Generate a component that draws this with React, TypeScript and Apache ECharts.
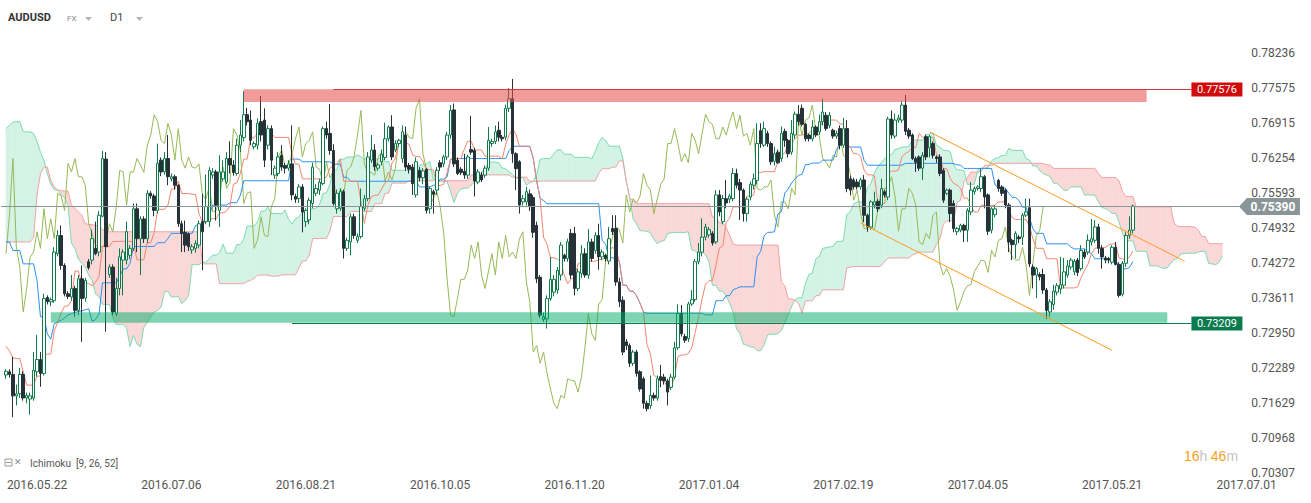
import React, { useEffect, useRef } from "react";
import * as echarts from "echarts";

// Daily AUDUSD candles, values in 1e-4 units (pips): [open, close, low, high]
const candles: number[][] = [
  [7223,7230,7216,7234],[7229,7224,7218,7234],[7224,7184,7144,7257],[7184,7188,7166,7205],[7188,7224,7180,7236],
  [7224,7180,7175,7230],[7180,7185,7170,7190],[7178,7184,7149,7190],[7180,7232,7175,7266],[7229,7252,7220,7298],
  [7252,7226,7201,7266],[7226,7366,7222,7375],[7368,7360,7355,7372],[7360,7364,7352,7368],[7362,7453,7358,7462],
  [7450,7484,7445,7494],[7484,7428,7420,7503],[7428,7375,7370,7432],[7375,7370,7365,7380],[7369,7385,7362,7410],
  [7385,7344,7332,7390],[7344,7403,7335,7410],[7403,7366,7285,7428],[7367,7400,7360,7405],[7435,7424,7420,7440],
  [7438,7478,7430,7495],[7460,7450,7447,7510],[7453,7522,7445,7530],[7520,7628,7518,7642],
  [7627,7463,7304,7640],[7411,7425,7405,7430],[7425,7341,7335,7430],[7338,7385,7333,7405],[7385,7444,7372,7460],
  [7438,7453,7372,7458],[7438,7491,7430,7510],[7447,7460,7440,7466],[7460,7534,7455,7544],[7534,7478,7453,7544],
  [7478,7515,7410,7520],[7515,7478,7470,7520],[7478,7563,7470,7569],[7563,7558,7553,7567],[7558,7531,7520,7562],
  [7531,7619,7525,7656],[7625,7603,7595,7630],[7603,7628,7598,7640],[7628,7594,7578,7672],[7590,7594,7585,7600],
  [7594,7578,7570,7598],[7578,7506,7500,7580],[7506,7488,7453,7512],[7490,7466,7453,7512],[7487,7463,7455,7490],
  [7457,7463,7450,7468],[7460,7469,7452,7475],[7466,7506,7460,7512],[7510,7491,7419,7562],[7510,7538,7505,7598],
  [7510,7606,7500,7612],[7597,7603,7590,7610],[7603,7541,7512,7607],[7531,7603,7500,7634],[7590,7603,7585,7625],
  [7584,7628,7580,7640],[7628,7616,7600,7660],[7616,7602,7596,7625],[7600,7653,7596,7665],[7653,7672,7640,7700],
  [7667,7710,7660,7754],[7710,7697,7690,7723],[7700,7662,7653,7718],[7650,7656,7645,7660],[7653,7694,7645,7703],
  [7697,7672,7660,7745],[7700,7625,7612,7722],[7653,7684,7645,7690],[7684,7625,7597,7690],[7597,7610,7590,7615],
  [7600,7631,7595,7640],[7634,7612,7605,7653],[7615,7610,7600,7620],[7610,7618,7605,7625],[7618,7560,7550,7690],
  [7557,7552,7545,7562],[7553,7575,7545,7580],[7575,7528,7490,7580],[7510,7531,7500,7535],[7513,7550,7505,7555],
  [7544,7612,7535,7620],[7563,7572,7558,7580],[7569,7584,7560,7590],[7581,7684,7578,7688],[7684,7672,7665,7697],
  [7675,7643,7635,7730],[7643,7544,7540,7655],[7534,7563,7525,7570],[7535,7566,7530,7572],[7566,7460,7441,7570],
  [7460,7475,7455,7480],[7472,7519,7447,7525],[7519,7484,7478,7525],[7475,7482,7470,7488],[7482,7538,7478,7572],
  [7535,7553,7530,7560],[7553,7631,7548,7640],[7625,7644,7620,7672],[7644,7613,7605,7655],[7610,7616,7605,7620],
  [7622,7636,7615,7645],[7630,7665,7625,7695],[7665,7687,7660,7690],[7687,7631,7625,7709],[7644,7656,7640,7662],
  [7656,7662,7650,7665],[7628,7678,7620,7690],[7672,7612,7605,7688],[7615,7608,7600,7620],[7612,7581,7560,7618],
  [7560,7622,7555,7630],[7606,7592,7585,7612],[7592,7605,7580,7610],[7608,7531,7525,7610],[7534,7572,7525,7575],
  [7566,7561,7525,7570],[7569,7606,7560,7612],[7620,7612,7605,7625],[7618,7631,7612,7635],[7631,7672,7625,7678],
  [7672,7718,7665,7728],[7719,7618,7612,7731],[7625,7600,7597,7630],[7608,7602,7597,7612],[7604,7597,7590,7637],
  [7597,7631,7590,7635],[7645,7640,7635,7708],[7643,7586,7557,7648],[7584,7603,7580,7608],[7597,7588,7584,7603],
  [7597,7610,7592,7615],[7610,7662,7605,7687],[7656,7660,7650,7665],[7660,7678,7655,7690],[7681,7668,7660,7697],
  [7668,7665,7660,7672],[7668,7722,7662,7729],[7722,7740,7715,7760],[7740,7637,7620,7777],[7637,7609,7569,7640],
  [7622,7541,7525,7625],
  [7547,7553,7540,7560],[7547,7566,7540,7575],[7562,7538,7530,7570],[7555,7490,7480,7560],[7503,7403,7395,7510],
  [7406,7335,7330,7410],[7327,7332,7322,7340],[7328,7366,7310,7372],[7366,7402,7362,7444],[7378,7402,7370,7410],
  [7382,7419,7375,7425],[7410,7466,7400,7472],[7447,7441,7435,7450],[7441,7472,7435,7478],[7488,7410,7403,7496],
  [7488,7385,7372,7500],[7385,7416,7380,7422],[7413,7450,7405,7466],[7450,7410,7405,7460],[7410,7472,7403,7496],
  [7472,7441,7435,7478],[7456,7484,7450,7490],[7484,7444,7420,7506],[7444,7453,7438,7458],[7447,7441,7435,7450],
  [7436,7478,7430,7500],[7497,7491,7485,7522],[7497,7397,7390,7522],[7397,7360,7350,7405],[7363,7266,7260,7370],
  [7285,7278,7270,7290],[7278,7245,7238,7282],[7245,7266,7240,7270],[7266,7226,7220,7270],[7229,7197,7192,7232],
  [7216,7170,7160,7220],[7170,7160,7155,7175],[7166,7185,7160,7222],[7185,7180,7175,7190],[7180,7216,7175,7222],
  [7220,7213,7200,7242],[7219,7212,7205,7225],[7212,7191,7166,7216],[7200,7219,7195,7225],[7219,7274,7215,7285],
  [7274,7338,7270,7355],[7338,7300,7295,7354],[7295,7288,7283,7300],[7291,7356,7285,7360],[7356,7364,7352,7382],
  [7364,7435,7360,7440],[7435,7453,7430,7470],[7453,7481,7445,7516],[7481,7500,7475,7506],[7485,7495,7480,7500],
  [7488,7470,7465,7492],[7472,7560,7468,7569],[7560,7528,7520,7569],[7510,7553,7505,7560],[7553,7545,7535,7588],
  [7552,7558,7545,7562],[7553,7600,7548,7610],[7600,7578,7572,7609],[7583,7569,7513,7590],[7569,7525,7510,7572],
  [7525,7552,7510,7556],[7556,7580,7550,7585],[7578,7590,7570,7600],[7587,7656,7580,7694],[7680,7656,7648,7694],
  [7653,7684,7650,7697],[7675,7656,7650,7680],[7656,7622,7616,7660],[7623,7637,7615,7650],[7640,7620,7618,7645],
  [7628,7675,7622,7688],[7679,7662,7650,7684],[7662,7637,7630,7665],[7640,7675,7635,7700],[7672,7711,7665,7716],
  [7711,7697,7690,7728],[7722,7692,7688,7729],[7692,7665,7660,7695],[7672,7665,7660,7675],[7665,7687,7660,7700],
  [7687,7672,7668,7690],[7678,7697,7672,7710],[7697,7715,7690,7740],[7709,7684,7680,7715],[7690,7709,7685,7715],
  [7681,7670,7665,7684],[7670,7675,7665,7680],[7684,7653,7645,7690],[7653,7684,7648,7704],[7684,7572,7565,7700],
  [7590,7569,7559,7596],[7588,7575,7570,7592],[7584,7575,7570,7590],[7575,7588,7570,7592],[7588,7522,7509,7597],
  [7522,7500,7491,7525],[7500,7547,7495,7550],[7541,7547,7535,7566],[7548,7534,7528,7552],[7541,7572,7535,7590],
  [7566,7560,7555,7570],[7556,7702,7550,7706],[7702,7672,7665,7718],[7670,7700,7665,7712],[7700,7704,7695,7710],
  [7700,7728,7695,7735],[7728,7679,7672,7747],[7681,7670,7665,7685],[7672,7628,7625,7675],[7628,7621,7603,7632],
  [7631,7610,7605,7634],[7610,7634,7588,7640],[7669,7631,7625,7673],[7648,7669,7630,7672],[7656,7634,7628,7660],
  [7631,7628,7620,7634],[7631,7600,7595,7636],[7606,7550,7545,7610],[7563,7569,7560,7572],[7569,7525,7509,7572],
  [7544,7497,7490,7550],[7491,7497,7485,7500],[7494,7503,7490,7506],[7503,7494,7472,7506],[7494,7531,7472,7535],
  [7528,7569,7522,7584],[7566,7572,7560,7576],[7572,7575,7568,7578],[7572,7594,7565,7609],[7594,7556,7535,7597],
  [7560,7492,7485,7563],[7494,7534,7488,7537],[7523,7534,7518,7541],[7587,7572,7566,7590],[7575,7563,7558,7578],
  [7569,7541,7535,7572],[7541,7472,7453,7545],[7475,7467,7438,7478],[7467,7488,7441,7492],[7481,7478,7470,7485],
  [7481,7522,7466,7526],[7522,7528,7518,7553],[7536,7431,7425,7553],[7425,7410,7385,7430],[7410,7422,7367,7425],
  [7411,7407,7400,7415],[7411,7382,7375,7422],[7382,7344,7328,7386],[7341,7360,7332,7365],[7355,7380,7345,7392],
  [7378,7390,7372,7395],[7384,7392,7375,7444],[7391,7416,7385,7442],[7410,7427,7405,7438],[7425,7438,7420,7442],
  [7416,7436,7410,7440],[7438,7415,7408,7442],[7422,7456,7418,7466],[7453,7444,7440,7458],[7453,7475,7448,7486],
  [7472,7478,7465,7515],[7475,7500,7470,7513],[7500,7460,7450,7506],[7460,7444,7422,7466],[7442,7438,7432,7446],
  [7441,7438,7432,7444],[7434,7462,7430,7466],[7462,7430,7428,7472],[7430,7372,7368,7434],[7374,7432,7370,7436],
  [7432,7484,7425,7490],[7484,7494,7478,7520],[7494,7539,7488,7542],
];

// Ichimoku values before enough history exists, pips
const earlyTenkan = [7277, 7268, 7255, 7254, 7254, 7229, 7204, 7204];
const earlyKijun = [7472, 7472, 7456, 7456, 7456, 7431, 7431, 7431, 7431, 7400, 7332, 7332, 7300, 7290, 7319,
  7322, 7325, 7330, 7335, 7338, 7340, 7342, 7343, 7345, 7347];
const earlySpanA = [7684, 7690, 7696, 7697, 7697, 7678, 7678, 7678, 7675, 7660, 7640, 7625, 7600, 7580, 7570,
  7569, 7560, 7555, 7540, 7470, 7460, 7440, 7432, 7425, 7410, 7400];
const earlySpanB = [7472, 7472, 7472, 7472, 7472, 7472, 7472, 7472, 7480, 7560, 7600, 7612, 7612, 7586, 7575,
  7569, 7568, 7567, 7567, 7541, 7535, 7528, 7522, 7506, 7505, 7504, 7503, 7503, 7495,
  7491, 7491, 7491, 7491, 7491, 7491, 7491, 7491, 7491, 7491, 7491, 7491, 7491, 7491,
  7491, 7491, 7491, 7491, 7491, 7491, 7491, 7491, 7491, 7491, 7491, 7491, 7491, 7491,
  7431, 7431, 7431, 7431, 7431,
  7394, 7394, 7394, 7394, 7394, 7394, 7394, 7394,
  7398, 7400, 7404, 7410, 7410, 7410, 7410];

const xLabels = ["2016.05.22", "2016.07.06", "2016.08.21", "2016.10.05", "2016.11.20",
  "2017.01.04", "2017.02.19", "2017.04.05", "2017.05.21", "2017.07.01"];
const yLabels = ["0.70307", "0.70968", "0.71629", "0.72289", "0.72950", "0.73611", "0.74272",
  "0.74932", "0.75593", "0.76254", "0.76915", "0.77575", "0.78236"];

const lastPrice = 7539.0;
const lastPriceText = "0.75390";
const levels = [
  { from: 95, price: 7757.6, text: "0.77576", color: "#d10a0a", line: "#d23a3a" },
  { from: 83, price: 7320.9, text: "0.73209", color: "#0b7a4f", line: "#0b7a4f" },
];
const zones = [
  { from: 69, to: 331, lo: 7733.8, hi: 7757.6, color: "rgba(232,72,72,0.55)" },
  { from: 13, to: 337, lo: 7320.9, hi: 7340.3, color: "rgba(0,172,104,0.5)" },
];
const channel = [
  [268, 7677.7, 342, 7436.1],
  [248, 7507.4, 321, 7269.1],
];

const SHIFT = 26;
const FIRST_LABEL = 9;
const LABEL_STEP = 39;
const NCAT = 361;

function buildIchimoku() {
  const n = candles.length;
  const mid = (a: number, b: number) => {
    let h = -Infinity, l = Infinity;
    for (let k = a; k <= b; k++) { h = Math.max(h, candles[k][3]); l = Math.min(l, candles[k][2]); }
    return (h + l) / 2;
  };
  const tenkan: number[] = [];
  const kijun: number[] = [];
  for (let i = 0; i < n; i++) {
    tenkan.push(i < earlyTenkan.length ? earlyTenkan[i] : mid(i - 8, i));
    kijun.push(i < earlyKijun.length ? earlyKijun[i] : mid(i - 25, i));
  }
  const spanA: number[] = [];
  const spanB: number[] = [];
  for (let j = 0; j < n + SHIFT; j++) {
    spanA.push(j < earlySpanA.length ? earlySpanA[j] : (tenkan[j - SHIFT] + kijun[j - SHIFT]) / 2);
    spanB.push(j < earlySpanB.length ? earlySpanB[j] : mid(j - SHIFT - 51, j - SHIFT));
  }
  const chikou: (number | null)[] = [];
  for (let i = 0; i < n - SHIFT; i++) chikou.push(candles[i + SHIFT][1]);
  return { tenkan, kijun, spanA, spanB, chikou };
}

export default function App() {
  const ref = useRef<HTMLDivElement>(null);
  useEffect(() => {
    if (!ref.current) return;
    const chart = echarts.init(ref.current, undefined, { renderer: "svg" });
    const { tenkan, kijun, spanA, spanB, chikou } = buildIchimoku();
    const cats = Array.from({ length: NCAT }, (_, i) => String(i));
    const font = "Roboto, 'Noto Sans', sans-serif";
    const cloudData = spanA.slice(0, -1).map((a, j) => [j, a, spanB[j], spanA[j + 1], spanB[j + 1]]);
    const GREEN = "#d4f3e6", RED = "#fbd8d8";

    const lineSeries = (name: string, data: (number | null)[], color: string, z: number) => ({
      name, type: "line", data, showSymbol: false, symbol: "none", z,
      lineStyle: { color, width: 1 }, connectNulls: false, silent: true,
    });

    chart.setOption({
      animation: false,
      backgroundColor: "#ffffff",
      textStyle: { fontFamily: font },
      grid: [
        { left: 4.28, right: 62.72, top: 54, bottom: 25.2 },
        { left: 4.28, right: 62.72, top: 52.7, bottom: 30.3 },
      ],
      xAxis: [
        {
          type: "category", gridIndex: 0, data: cats, boundaryGap: true,
          axisLine: { show: false }, axisTick: { show: false }, splitLine: { show: false },
          axisLabel: {
            interval: (idx: number) => idx >= FIRST_LABEL && (idx - FIRST_LABEL) % LABEL_STEP === 0,
            formatter: (_v: string, idx: number) => xLabels[(idx - FIRST_LABEL) / LABEL_STEP] ?? "",
            color: "#555", fontSize: 12, margin: 1, fontFamily: font,
          },
        },
        { type: "category", gridIndex: 1, data: ["-"], show: false },
      ],
      yAxis: [
        { type: "value", gridIndex: 0, min: 7030.7, max: 7823.6, show: false, splitLine: { show: false } },
        {
          type: "category", gridIndex: 1, data: yLabels, boundaryGap: false, position: "right",
          axisLine: { show: false }, axisTick: { show: false }, splitLine: { show: false },
          axisLabel: { interval: 0, color: "#555", fontSize: 12, margin: 3, fontFamily: font },
        },
      ],
      series: [
        {
          type: "custom", name: "cloud", data: cloudData, z: 1, silent: true, clip: false,
          encode: { x: 0, y: 1 },
          renderItem: (_p: any, api: any) => {
            const j = api.value(0);
            const a0 = api.value(1), b0 = api.value(2), a1 = api.value(3), b1 = api.value(4);
            const pa0 = api.coord([j, a0]), pb0 = api.coord([j, b0]);
            const pa1 = api.coord([j + 1, a1]), pb1 = api.coord([j + 1, b1]);
            const poly = (pts: number[][], col: string) => ({
              type: "polygon", shape: { points: pts },
              style: { fill: col, stroke: col, lineWidth: 0.6 },
            });
            const d0 = a0 - b0, d1 = a1 - b1;
            if (d0 * d1 >= 0) {
              return poly([pa0, pa1, pb1, pb0], d0 + d1 >= 0 ? GREEN : RED);
            }
            const t = d0 / (d0 - d1);
            const pc = [pa0[0] + t * (pa1[0] - pa0[0]), pa0[1] + t * (pa1[1] - pa0[1])];
            return {
              type: "group",
              children: [poly([pa0, pc, pb0], d0 > 0 ? GREEN : RED), poly([pc, pa1, pb1], d1 > 0 ? GREEN : RED)],
            };
          },
        },
        lineSeries("spanA", spanA, "#7edcb3", 2),
        lineSeries("spanB", spanB, "#f2a4a4", 2),
        lineSeries("chikou", chikou, "#97b955", 3),
        lineSeries("kijun", kijun, "#2b8ff2", 3),
        lineSeries("tenkan", tenkan, "#f3866f", 3),
        {
          type: "candlestick", name: "AUDUSD", data: candles, z: 4, barWidth: 3, silent: true,
          itemStyle: {
            color: "#ffffff", color0: "#263238",
            borderColor: "#117a4b", borderColor0: "#263238", borderWidth: 1,
          },
        },
        {
          type: "custom", name: "zones", data: zones.map((zn) => [zn.from, zn.lo, zn.to, zn.hi]),
          z: 5, silent: true, clip: false, encode: { x: 0, y: 1 },
          renderItem: (p: any, api: any) => {
            const a = api.coord([api.value(0), api.value(3)]);
            const b = api.coord([api.value(2), api.value(1)]);
            return {
              type: "rect", shape: { x: a[0], y: a[1], width: b[0] - a[0], height: b[1] - a[1] },
              style: { fill: zones[p.dataIndex].color },
            };
          },
        },
        {
          type: "custom", name: "channel", data: channel, z: 6, silent: true, clip: false,
          encode: { x: 0, y: 1 },
          renderItem: (_p: any, api: any) => {
            const a = api.coord([api.value(0), api.value(1)]);
            const b = api.coord([api.value(2), api.value(3)]);
            return {
              type: "line", shape: { x1: a[0], y1: a[1], x2: b[0], y2: b[1] },
              style: { stroke: "#ff9a1f", lineWidth: 1 },
            };
          },
        },
        {
          type: "custom", name: "levels", data: levels.map((lv) => [lv.from, lv.price]),
          z: 7, silent: true, clip: false, encode: { x: 0, y: 1 },
          renderItem: (p: any, api: any) => {
            const lv = levels[p.dataIndex];
            const a = api.coord([api.value(0), api.value(1)]);
            const b = api.coord([344, api.value(1)]);
            const y = Math.round(a[1]) + 0.5;
            return {
              type: "group",
              children: [
                { type: "line", shape: { x1: a[0], y1: y, x2: b[0], y2: y }, style: { stroke: lv.line, lineWidth: 1 } },
                { type: "rect", shape: { x: b[0], y: y - 7, width: 51, height: 14 }, style: { fill: lv.color } },
                {
                  type: "text", x: b[0] + 25.5, y: y,
                  style: { text: lv.text, fill: "#ffffff", fontSize: 11, fontFamily: font, align: "center", verticalAlign: "middle" },
                },
              ],
            };
          },
        },
        {
          type: "custom", name: "last", data: [[0, lastPrice]], z: 8, silent: true, clip: false,
          encode: { x: 0, y: 1 },
          renderItem: (_p: any, api: any) => {
            const a = api.coord([0, api.value(1)]);
            const b = api.coord([358, api.value(1)]);
            const y = Math.round(a[1]) + 0.5;
            const bx = b[0] - 0.7;
            return {
              type: "group",
              children: [
                { type: "line", shape: { x1: 1, y1: y, x2: bx, y2: y }, style: { stroke: "#8a9598", lineWidth: 1 } },
                {
                  type: "polygon",
                  shape: { points: [[bx, y], [bx + 8, y - 8.5], [bx + 61, y - 8.5], [bx + 61, y + 8.5], [bx + 8, y + 8.5]] },
                  style: { fill: "#8a9598" },
                },
                {
                  type: "text", x: bx + 34, y: y,
                  style: { text: lastPriceText, fill: "#ffffff", fontSize: 12, fontWeight: "bold", fontFamily: font, align: "center", verticalAlign: "middle" },
                },
              ],
            };
          },
        },
      ],
      graphic: [
        { type: "text", left: 8, top: 12, style: { text: "AUDUSD", fontSize: 11, fontWeight: "bold", fill: "#333", fontFamily: font } },
        { type: "text", left: 67, top: 14, style: { text: "FX", fontSize: 8, fill: "#8a8a8a", fontFamily: font } },
        { type: "polygon", shape: { points: [[85, 17], [92, 17], [88.5, 21]] }, style: { fill: "#b5b5b5" } },
        { type: "text", left: 110, top: 12, style: { text: "D1", fontSize: 11, fill: "#444", fontFamily: font } },
        { type: "polygon", shape: { points: [[136, 17], [143, 17], [139.5, 21]] }, style: { fill: "#b5b5b5" } },
        { type: "rect", shape: { x: 5, y: 459, width: 7, height: 7 }, style: { fill: "none", stroke: "#9a9a9a", lineWidth: 1 } },
        { type: "line", shape: { x1: 6, y1: 462.5, x2: 11, y2: 462.5 }, style: { stroke: "#9a9a9a", lineWidth: 1 } },
        { type: "text", left: 14, top: 457, style: { text: "✕", fontSize: 9, fill: "#8a8a8a", fontFamily: "DejaVu Sans" } },
        { type: "text", left: 30, top: 458, style: { text: "Ichimoku  [9, 26, 52]", fontSize: 10, fill: "#555", fontFamily: font } },
        {
          type: "text", left: 1184, top: 449,
          style: {
            text: "{o|16}{g|h} {o|46}{g|m}", fontSize: 14, fontFamily: font,
            rich: { o: { fill: "#f5a11c", fontSize: 14 }, g: { fill: "#c4c4c4", fontSize: 14 } },
          },
        },
      ],
    });
    return () => chart.dispose();
  }, []);
  return <div ref={ref} style={{ position: "fixed", left: 0, top: 0, width: 1311, height: 503 }} />;
}
